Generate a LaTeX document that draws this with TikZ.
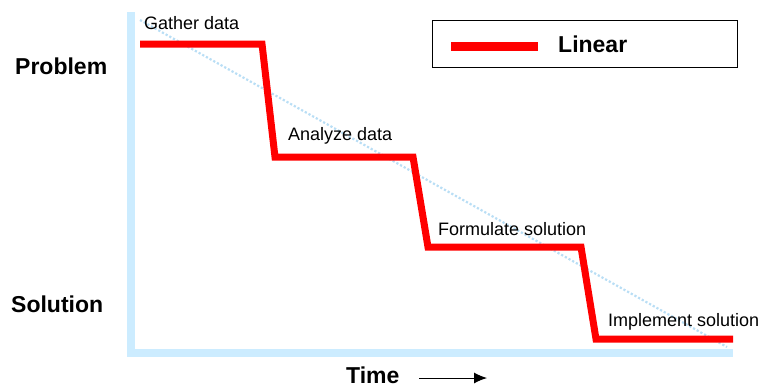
\documentclass[tikz,border=0pt]{standalone}
\usepackage{fontspec}
\setmainfont{Liberation Sans}
\usepackage{tikz}
\usetikzlibrary{arrows.meta}
\definecolor{axisblue}{RGB}{204,236,255}
\definecolor{dotblue}{RGB}{185,222,245}

\begin{document}
\begin{tikzpicture}[
		x=1bp, y=-1bp,
		every node/.style={inner sep=0pt, anchor=base west},
		step label/.style={font=\fontsize{18bp}{20bp}\selectfont},
		big label/.style={font=\bfseries\fontsize{23bp}{26bp}\selectfont},
		linear/.style={draw=red, line width=7bp, line join=miter},
		axis bar/.style={draw=axisblue, line width=8bp}
	]
  \useasboundingbox (0,0) rectangle (761,388);
  % axes
  \coordinate (o) at (131,353);
  \coordinate (y_top) at (131,12);
  \coordinate (x_end) at (733,353);
  \draw[axis bar] (y_top) -- (131,357);
  \draw[axis bar] (127,353) -- (x_end);
  % trend
  \coordinate (t_start) at (140,20);
  \coordinate (t_end) at (727,347);
  \draw[dotblue, dotted, line width=2.2bp] (t_start) -- (t_end);
  % steps
  \coordinate (s_0) at (140,44);
  \coordinate (s_1) at (262,44);
  \coordinate (s_2) at (275,157);
  \coordinate (s_3) at (413,157);
  \coordinate (s_4) at (428,247);
  \coordinate (s_5) at (581,247);
  \coordinate (s_6) at (596,339);
  \coordinate (s_7) at (733,339);
  \draw[linear] (s_0) -- (s_1) -- (s_2) -- (s_3) -- (s_4) -- (s_5) -- (s_6) -- (s_7);
  \node (gather) [step label] at (144,29) {Gather data};
  \node (analyze) [step label] at (288,140) {Analyze data};
  \node (formulate) [step label] at (438,235) {Formulate solution};
  \node (implement) [step label] at (608,326) {Implement solution};
  % side labels
  \node (problem) [big label] at (15,74) {Problem};
  \node (solution) [big label] at (11,312) {Solution};
  \node (time) [big label] at (346,383) {Time};
  \coordinate (arr_a) at (419,378);
  \coordinate (arr_b) at (487,378);
  \draw[-{Latex[length=13bp,width=11bp]}, line width=1bp] (arr_a) -- (arr_b);
  % legend
  \node (legend) [draw, line width=1bp, minimum width=305bp, minimum height=47bp, anchor=north west] at (432,20) {};
  \coordinate (leg_a) at (451,46);
  \coordinate (leg_b) at (538,46);
  \draw[draw=red, line width=9bp] (leg_a) -- (leg_b);
  \node (linear) [big label] at (558,52) {Linear};
\end{tikzpicture}
\end{document}
